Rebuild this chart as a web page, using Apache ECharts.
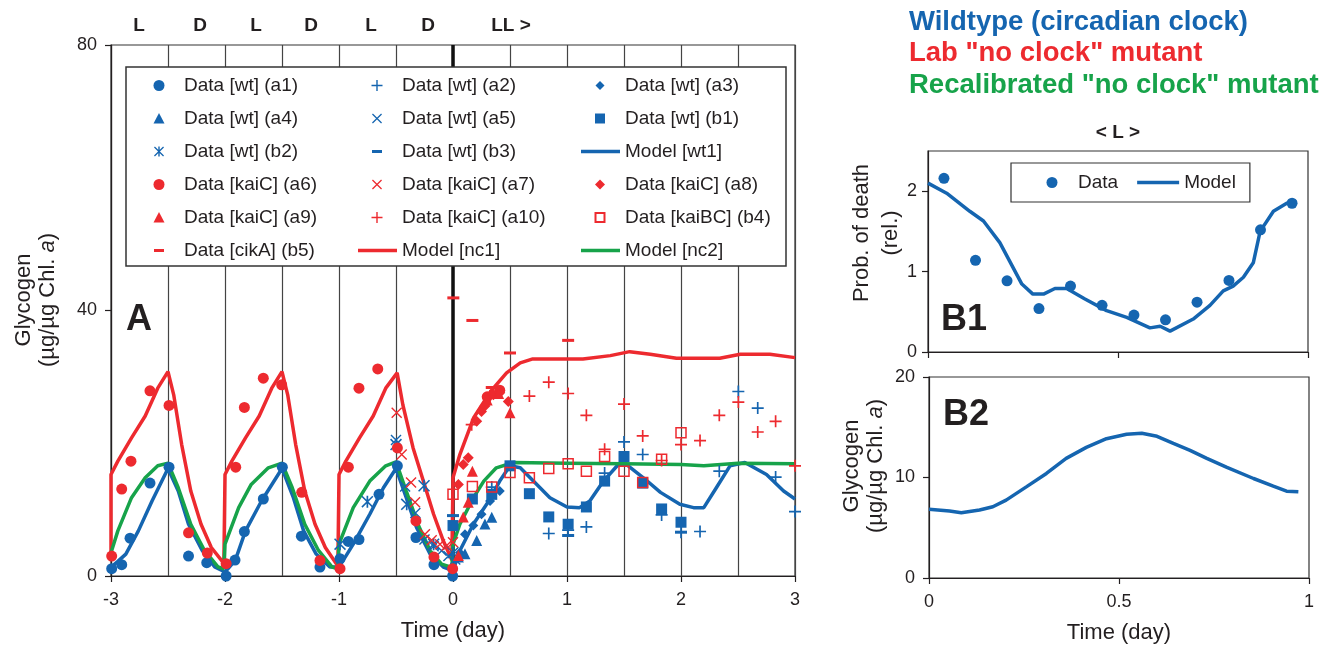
<!DOCTYPE html>
<html>
<head>
<meta charset="utf-8">
<script src="https://cdn.jsdelivr.net/npm/echarts@6/dist/echarts.min.js"></script>
<style>
  html, body { margin: 0; padding: 0; background: #fff; }
  #chart { width: 1323px; height: 647px; }
</style>
</head>
<body>
<div id="chart"></div>
<script>
const BLUE = '#1565b0';
const RED = '#ed2a2f';
const GREEN = '#17a34a';
const INK = '#231f20';
const FONT = '"Liberation Sans", Arial, sans-serif';

// ---- panel A: model curves, [day, glycogen]
const modelWt1 = [[-3,1.3],[-2.94,2.2],[-2.87,3.3],[-2.76,6.8],[-2.64,11.3],[-2.5,16.2],[-2.41,12.8],[-2.32,7.8],[-2.2,3.85],[-2.09,1.35],[-2,0.6],
  [-1.91,2.35],[-1.82,6.8],[-1.68,11.3],[-1.5,16.2],[-1.4,11.8],[-1.31,6.8],[-1.2,3.3],[-1.08,1.35],[-1,1.4],
  [-0.94,3.0],[-0.875,4.8],[-0.73,9.3],[-0.61,13.3],[-0.5,16.2],[-0.41,11.8],[-0.32,7.3],[-0.2,3.3],[-0.085,1.35],[0,0.8],
  [0.061,3.85],[0.178,7.8],[0.295,10.8],[0.41,14.3],[0.5,16.6],[0.59,16.3],[0.705,14.3],[0.85,11.8],[1.0,10.4],[1.11,10.3],[1.2,11.3],
  [1.32,14.3],[1.45,16.8],[1.52,16.8],[1.67,14.8],[1.82,12.6],[1.99,10.8],[2.11,10.3],[2.2,10.3],[2.31,13.3],[2.43,16.6],[2.56,17.1],
  [2.75,15.3],[2.9,12.8],[3,11.6]];
const modelNc1 = [[-3,2.8],[-3,15.3],[-2.94,17.3],[-2.82,20.8],[-2.7,24.1],[-2.59,28.3],[-2.5,30.8],[-2.45,27.3],[-2.38,19.8],[-2.3,12.8],[-2.21,7.8],[-2.12,4.3],[-2.01,1.9],
  [-2,15.3],[-1.94,17.3],[-1.82,20.8],[-1.7,24.1],[-1.59,28.3],[-1.5,30.8],[-1.45,27.3],[-1.38,19.8],[-1.3,12.8],[-1.21,7.8],[-1.12,4.3],[-1.01,1.5],
  [-1,15.3],[-0.94,17.3],[-0.82,20.8],[-0.7,24.1],[-0.59,28.3],[-0.49,30.6],[-0.44,25.8],[-0.35,19.3],[-0.26,14.3],[-0.17,9.3],[-0.085,5.3],[-0.01,2.4],
  [0,14.8],[0.06,18.3],[0.18,23.8],[0.33,27.8],[0.47,30.6],[0.59,32.1],[0.7,32.7],[1.14,32.7],[1.38,33.2],[1.55,33.8],[1.73,33.4],[1.96,32.8],
  [2.34,32.8],[2.52,33.4],[2.78,33.4],[3,32.9]];
const modelNc2 = [[-3,3.5],[-2.94,6.8],[-2.82,11.8],[-2.7,14.8],[-2.59,16.6],[-2.5,17.0],[-2.41,13.3],[-2.3,7.8],[-2.18,3.85],[-2.06,1.35],[-2.01,1.1],
  [-2,4.8],[-1.88,10.3],[-1.77,13.8],[-1.62,16.3],[-1.5,17.0],[-1.41,13.3],[-1.3,7.8],[-1.18,3.85],[-1.06,1.35],[-1.01,1.1],
  [-1,4.8],[-0.875,10.3],[-0.73,14.3],[-0.59,16.6],[-0.5,17.2],[-0.41,12.8],[-0.3,7.5],[-0.2,3.8],[-0.1,1.8],[-0.01,1.3],
  [0,4.8],[0.06,7.8],[0.18,11.8],[0.27,14.3],[0.38,16.3],[0.53,17.1],[1.0,17.0],[1.5,16.9],[2.0,16.8],[2.2,16.6],[2.5,17.0],[3,16.9]];

// ---- panel A: measurements
const wtA1 = [[-2.994,1.1],[-2.906,1.7],[-2.833,5.7],[-2.658,14.0],[-2.491,16.4],[-2.32,3.0],[-2.16,2.0],[-1.99,0.0],[-1.912,2.4],[-1.83,6.7],
  [-1.664,11.6],[-1.497,16.4],[-1.33,6.0],[-1.167,1.35],[-0.991,2.6],[-0.918,5.2],[-0.825,5.5],[-0.649,12.3],[-0.488,16.6],[-0.325,5.8],
  [-0.167,1.7],[-0.003,0.0]];
const wtA2 = [[0.34,13.4],[0.84,6.4],[1.01,6.9],[1.17,7.4],[1.33,15.5],[1.5,20.2],[1.664,18.3],[1.83,9.2],[2.0,6.6],[2.167,6.7],[2.336,15.8],
  [2.503,27.8],[2.673,25.3],[2.83,14.9],[3.0,9.7]];
const wtA3 = [[0,0.0],[0.06,3.5],[0.105,6.3],[0.178,7.6],[0.25,9.3],[0.325,11.3],[0.41,12.8]];
const wtA4 = [[0.047,2.85],[0.105,3.35],[0.208,5.35],[0.28,7.85],[0.34,8.85]];
const wtA5 = [[-0.5,20.5],[-0.42,13.5],[-0.33,9.5],[-0.25,5.5],[-0.17,4.5],[-0.1,3.8],[-0.04,3.0],[0.02,2.5]];
const wtB1 = [[0,7.6],[0.17,11.6],[0.34,12.3],[0.5,16.6],[0.67,12.4],[0.84,8.9],[1.01,7.8],[1.17,10.4],[1.33,14.3],[1.5,18.0],[1.664,14.0],
  [1.83,10.1],[2.0,8.1]];
const wtB2 = [[-0.991,4.8],[-0.751,11.2],[-0.5,19.8],[-0.406,10.8],[-0.254,13.6],[-0.17,4.8],[0.0,3.5]];
const wtB3 = [[0,9.1],[1.01,6.1],[2.0,6.6]];
const kaiA6 = [[-2.994,3.0],[-2.906,13.1],[-2.825,17.3],[-2.658,27.9],[-2.491,25.7],[-2.32,6.5],[-2.155,3.45],[-1.99,1.85],[-1.906,16.4],
  [-1.83,25.4],[-1.664,29.8],[-1.503,28.8],[-1.327,12.6],[-1.167,2.35],[-0.991,1.1],[-0.918,16.4],[-0.825,28.3],[-0.66,31.2],[-0.488,19.3],
  [-0.325,8.3],[-0.167,2.85],[-0.003,1.1],[0.3,27.0],[0.41,28.0]];
const kaiA7 = [[-0.494,24.6],[-0.45,18.3],[-0.368,14.1],[-0.333,11.1],[-0.246,6.3],[-0.187,5.4],[-0.114,4.8],[-0.055,4.6],[0.0,5.1]];
const kaiA8 = [[0.047,13.8],[0.09,16.8],[0.134,17.8],[0.208,23.3],[0.25,24.8],[0.28,25.6],[0.354,27.3],[0.41,27.6],[0.485,26.3]];
const kaiA9 = [[0.047,3.1],[0.09,8.9],[0.134,11.1],[0.17,15.8],[0.3,26.5],[0.4,27.5],[0.5,24.6]];
const kaiA10 = [[0.164,22.8],[0.325,27.1],[0.67,27.1],[0.84,29.2],[1.01,27.5],[1.17,24.2],[1.33,19.1],[1.5,25.9],[1.664,21.1],[1.83,17.4],
  [2.0,19.8],[2.167,20.4],[2.336,24.2],[2.503,26.2],[2.673,21.7],[2.83,23.3],[3.0,16.6]];
const kaiBcB4 = [[0,12.3],[0.17,13.5],[0.34,13.4],[0.5,15.6],[0.67,14.8],[0.84,16.2],[1.01,16.9],[1.17,15.8],[1.33,18.0],[1.5,15.8],
  [1.664,14.1],[1.83,17.6],[2.0,21.6]];
const cikAB5 = [[0.003,41.9],[0.17,38.5],[0.34,28.4],[0.5,33.6],[1.01,35.5]];

// ---- panel B1: probability of death, [day, rel.]
const deathDays = [0.042,0.125,0.208,0.292,0.375,0.458,0.542,0.625,0.708,0.792,0.875,0.958];
const deathData = [2.16,1.14,0.885,0.54,0.82,0.58,0.46,0.40,0.62,0.89,1.52,1.85];
const deathModel = [[0,2.10],[0.049,1.975],[0.11,1.75],[0.146,1.63],[0.189,1.36],[0.247,0.845],[0.276,0.72],[0.304,0.72],[0.334,0.79],
  [0.365,0.79],[0.413,0.66],[0.47,0.515],[0.523,0.43],[0.584,0.30],[0.611,0.32],[0.637,0.26],[0.698,0.41],[0.742,0.58],[0.777,0.76],
  [0.803,0.82],[0.83,0.93],[0.856,1.11],[0.874,1.50],[0.909,1.75],[0.944,1.85],[0.97,1.87]];

// ---- panel B2: glycogen over one day
const glycoModel = [[0,6.83],[0.054,6.66],[0.085,6.5],[0.133,6.76],[0.168,7.09],[0.203,7.75],[0.256,9.07],[0.309,10.4],[0.361,11.9],
  [0.414,13.0],[0.467,13.86],[0.52,14.3],[0.56,14.4],[0.6,14.1],[0.643,13.4],[0.687,12.7],[0.731,11.9],[0.784,11.0],[0.854,9.9],
  [0.906,9.14],[0.941,8.64],[0.972,8.57]];

const ldLabels = ['L', 'D', 'L', 'D', 'L', 'D'];

// marker shapes
const PLUS = 'path://M4.3,0H5.7V4.3H10V5.7H5.7V10H4.3V5.7H0V4.3H4.3Z';
const CROSS = 'path://M0,0.9L0.9,0L10,9.1L9.1,10ZM10,0.9L0.9,10L0,9.1L9.1,0Z';
const ASTER = 'path://M0,0.9L0.9,0L10,9.1L9.1,10ZM10,0.9L0.9,10L0,9.1L9.1,0ZM4.3,0H5.7V10H4.3Z';

// legend icons, drawn in a 40x14 box
const PAD = 'path://M0,0M40,14';
const IC = {
  circle: PAD + 'M25.5,7A5.5,5.5,0,1,1,14.5,7A5.5,5.5,0,1,1,25.5,7Z',
  plus: PAD + 'M19.3,1.5H20.7V6.3H25.5V7.7H20.7V12.5H19.3V7.7H14.5V6.3H19.3Z',
  cross: PAD + 'M15,2.9L15.9,2L25,11.1L24.1,12ZM25,2.9L15.9,12L15,11.1L24.1,2Z',
  aster: PAD + 'M15,2.9L15.9,2L25,11.1L24.1,12ZM25,2.9L15.9,12L15,11.1L24.1,2ZM19.3,2H20.7V12H19.3Z',
  tri: PAD + 'M20,1.5L25.5,12L14.5,12Z',
  smallDiamond: PAD + 'M20,2.5L24.5,7L20,11.5L15.5,7Z',
  diamond: PAD + 'M20,2L25,7L20,12L15,7Z',
  square: PAD + 'M15,2H25V12H15Z',
  openSquare: PAD + 'M15.5,2.5H24.5V11.5H15.5Z',
  minus: PAD + 'M15,5.5H25V8.5H15Z',
  line: PAD + 'M1,5.25H40V8.75H1Z'
};
const dotIcon = 'path://M0,0M42,14M26.5,7A5.5,5.5,0,1,1,15.5,7A5.5,5.5,0,1,1,26.5,7Z';
const lineIcon = 'path://M0,0M42,14M0,5.25H42V8.75H0Z';

function scatter(name, data, color, symbol, size, extra) {
  return Object.assign({
    name, type: 'scatter', xAxisIndex: 0, yAxisIndex: 0, data,
    symbol, symbolSize: size, itemStyle: { color, opacity: 1 }, z: 3
  }, extra || {});
}
function model(name, data, color, extra) {
  return Object.assign({
    name, type: 'line', xAxisIndex: 0, yAxisIndex: 0, data,
    symbol: 'none', lineStyle: { color, width: 3.5 }, itemStyle: { color }, z: 2
  }, extra || {});
}

const axisText = { fontSize: 18, color: INK, fontFamily: FONT };
const axisLine = { show: true, onZero: false, lineStyle: { color: INK, width: 1.2 } };
const tick = { show: true, length: 6, lineStyle: { color: INK, width: 1.2 } };

const series = [
  model('Model [wt1]', modelWt1, BLUE, {
    markLine: {
      silent: true, z: 1, symbol: ['none', 'none'], label: { show: false },
      lineStyle: { color: '#111', width: 3.5, type: 'solid' },
      data: [{ xAxis: 0 }]
    }
  }),
  model('Model [nc1]', modelNc1, RED),
  model('Model [nc2]', modelNc2, GREEN),
  scatter('Data [wt] (a1)', wtA1, BLUE, 'circle', 11),
  scatter('Data [wt] (a2)', wtA2, BLUE, PLUS, 12),
  scatter('Data [wt] (a3)', wtA3, BLUE, 'diamond', 10),
  scatter('Data [wt] (a4)', wtA4, BLUE, 'triangle', 11),
  scatter('Data [wt] (a5)', wtA5, BLUE, CROSS, 11),
  scatter('Data [wt] (b1)', wtB1, BLUE, 'rect', 11),
  scatter('Data [wt] (b2)', wtB2, BLUE, ASTER, 12),
  scatter('Data [wt] (b3)', wtB3, BLUE, 'rect', [12, 3]),
  scatter('Data [kaiC] (a6)', kaiA6, RED, 'circle', 11),
  scatter('Data [kaiC] (a7)', kaiA7, RED, CROSS, 11),
  scatter('Data [kaiC] (a8)', kaiA8, RED, 'diamond', 11),
  scatter('Data [kaiC] (a9)', kaiA9, RED, 'triangle', 11),
  scatter('Data [kaiC] (a10)', kaiA10, RED, PLUS, 12),
  scatter('Data [kaiBC] (b4)', kaiBcB4, RED, 'rect', 10, {
    itemStyle: { color: 'rgba(255,255,255,0)', borderColor: RED, borderWidth: 1.5, opacity: 1 }
  }),
  scatter('Data [cikA] (b5)', cikAB5, RED, 'rect', [12, 3]),
  {
    name: 'Data', type: 'scatter', xAxisIndex: 1, yAxisIndex: 1,
    data: deathDays.map((d, i) => [d, deathData[i]]),
    symbol: 'circle', symbolSize: 11, itemStyle: { color: BLUE, opacity: 1 }, z: 3
  },
  {
    name: 'Model', type: 'line', xAxisIndex: 1, yAxisIndex: 1, data: deathModel,
    symbol: 'none', lineStyle: { color: BLUE, width: 3.5 }, itemStyle: { color: BLUE }, z: 2
  },
  {
    name: 'Glycogen B2', type: 'line', xAxisIndex: 2, yAxisIndex: 2, data: glycoModel,
    symbol: 'none', lineStyle: { color: BLUE, width: 3.5 }, itemStyle: { color: BLUE }
  }
];

const legendText = { fontSize: 19, lineHeight: 14, color: INK, fontFamily: FONT };
function colLegend(left, items) {
  return {
    left, top: 76, orient: 'vertical', padding: 0,
    itemWidth: 40, itemHeight: 14, itemGap: 14, selectedMode: false,
    textStyle: legendText,
    data: items.map(([name, icon]) => ({ name, icon: IC[icon] }))
  };
}

const txt = (text, x, y, size, color, extra) => Object.assign({
  type: 'text', x, y, z: 10,
  style: Object.assign({
    text, fill: color || INK, fontSize: size, fontFamily: FONT,
    align: 'center', verticalAlign: 'middle', textAlign: 'center', textVerticalAlign: 'middle'
  }, (extra && extra.style) || {})
}, extra ? { rotation: extra.rotation || 0 } : {});

const glyName = (x, y, lh) => ({
  type: 'text', x, y, rotation: Math.PI / 2, z: 10,
  style: {
    text: 'Glycogen\n(µg/µg Chl. {i|a})', fill: INK, fontSize: 22, fontFamily: FONT, lineHeight: lh,
    align: 'center', verticalAlign: 'middle', textAlign: 'center', textVerticalAlign: 'middle',
    rich: { i: { fontStyle: 'italic', fontSize: 22, fontFamily: FONT, lineHeight: lh, fill: INK } }
  }
});

const graphics = [
  { type: 'rect', z: 3, shape: { x: 126, y: 67, width: 660, height: 199 },
    style: { fill: '#fff', stroke: '#333', lineWidth: 1.5 } },
  glyName(36, 300, 24),
  glyName(864, 466, 24),
  {
    type: 'text', x: 876, y: 233, rotation: Math.PI / 2, z: 10,
    style: {
      text: 'Prob. of death\n(rel.)', fill: INK, fontSize: 22, fontFamily: FONT, lineHeight: 29,
      align: 'center', verticalAlign: 'middle', textAlign: 'center', textVerticalAlign: 'middle'
    }
  },
  txt('A', 139, 320, 36, INK, { style: { fontWeight: 'bold' } }),
  txt('B1', 964, 320, 36, INK, { style: { fontWeight: 'bold' } }),
  txt('B2', 966, 415, 36, INK, { style: { fontWeight: 'bold' } }),
  txt('< L >', 1118, 133, 19, INK, { style: { fontWeight: 'bold' } }),
  txt('LL >', 511, 26, 19, INK, { style: { fontWeight: 'bold' } }),
  txt('Wildtype (circadian clock)', 909, 22, 27.5, BLUE, { style: { fontWeight: 'bold', align: 'left', textAlign: 'left' } }),
  txt('Lab "no clock" mutant', 909, 53, 27.5, RED, { style: { fontWeight: 'bold', align: 'left', textAlign: 'left' } }),
  txt('Recalibrated "no clock" mutant', 909, 85, 27.5, GREEN, { style: { fontWeight: 'bold', align: 'left', textAlign: 'left' } })
];
const ldX = [139, 200, 256, 311, 371, 428];
ldLabels.forEach((s, i) => graphics.push(txt(s, ldX[i], 26, 19, INK, { style: { fontWeight: 'bold' } })));

const option = {
  animation: false,
  backgroundColor: '#fff',
  textStyle: { fontFamily: FONT },
  grid: [
    { left: 111, top: 45, width: 684, height: 534, show: true, borderColor: '#333', borderWidth: 1.2 },
    { left: 928, top: 151, width: 380, height: 201, show: true, borderColor: '#333', borderWidth: 1.2 },
    { left: 929, top: 377, width: 380, height: 201, show: true, borderColor: '#333', borderWidth: 1.2 }
  ],
  xAxis: [
    {
      gridIndex: 0, type: 'value', min: -3, max: 3, interval: 1,
      axisLine, axisTick: tick, axisLabel: Object.assign({ margin: 15 }, axisText),
      splitLine: { show: true, lineStyle: { color: '#444', width: 1.2 } },
      minorTick: { show: false, splitNumber: 2 },
      minorSplitLine: { show: true, lineStyle: { color: '#444', width: 1.2 } },
      name: 'Time (day)', nameLocation: 'middle', nameGap: 44,
      nameTextStyle: { fontSize: 22, color: INK, fontFamily: FONT }
    },
    {
      gridIndex: 1, type: 'value', min: 0, max: 1, interval: 0.5,
      axisLine, axisTick: tick, axisLabel: { show: false }, splitLine: { show: false }
    },
    {
      gridIndex: 2, type: 'value', min: 0, max: 1, interval: 0.5,
      axisLine, axisTick: tick, axisLabel: Object.assign({ margin: 15 }, axisText), splitLine: { show: false },
      name: 'Time (day)', nameLocation: 'middle', nameGap: 44,
      nameTextStyle: { fontSize: 22, color: INK, fontFamily: FONT }
    }
  ],
  yAxis: [
    {
      gridIndex: 0, type: 'value', min: 0, max: 80, interval: 40,
      axisLine, axisTick: tick, axisLabel: Object.assign({ margin: 14 }, axisText), splitLine: { show: false }
    },
    {
      gridIndex: 1, type: 'value', min: 0, max: 2.5, interval: 0.5,
      axisLine, axisTick: Object.assign({ customValues: [0, 1, 2] }, tick),
      axisLabel: Object.assign({ margin: 11, customValues: [0, 1, 2] }, axisText), splitLine: { show: false }
    },
    {
      gridIndex: 2, type: 'value', min: 0, max: 20, interval: 10,
      axisLine, axisTick: tick, axisLabel: Object.assign({ margin: 14 }, axisText), splitLine: { show: false }
    }
  ],
  legend: [
    colLegend(139, [['Data [wt] (a1)', 'circle'], ['Data [wt] (a4)', 'tri'], ['Data [wt] (b2)', 'aster'],
      ['Data [kaiC] (a6)', 'circle'], ['Data [kaiC] (a9)', 'tri'], ['Data [cikA] (b5)', 'minus']]),
    colLegend(357, [['Data [wt] (a2)', 'plus'], ['Data [wt] (a5)', 'cross'], ['Data [wt] (b3)', 'minus'],
      ['Data [kaiC] (a7)', 'cross'], ['Data [kaiC] (a10)', 'plus'], ['Model [nc1]', 'line']]),
    colLegend(579, [['Data [wt] (a3)', 'smallDiamond'], ['Data [wt] (b1)', 'square'], ['Model [wt1]', 'line'],
      ['Data [kaiC] (a8)', 'diamond'], ['Data [kaiBC] (b4)', 'openSquare'], ['Model [nc2]', 'line']]),
    {
      left: 1011, top: 163, orient: 'horizontal', padding: [10, 14, 10, 20],
      itemWidth: 42, itemHeight: 14, itemGap: 19, selectedMode: false,
      borderColor: '#333', borderWidth: 1.2, backgroundColor: '#fff',
      textStyle: legendText,
      data: [{ name: 'Data', icon: dotIcon }, { name: 'Model', icon: lineIcon }]
    }
  ],
  graphic: { elements: graphics },
  series
};

const chart = echarts.init(document.getElementById('chart'));
chart.setOption(option);
</script>
</body>
</html>
